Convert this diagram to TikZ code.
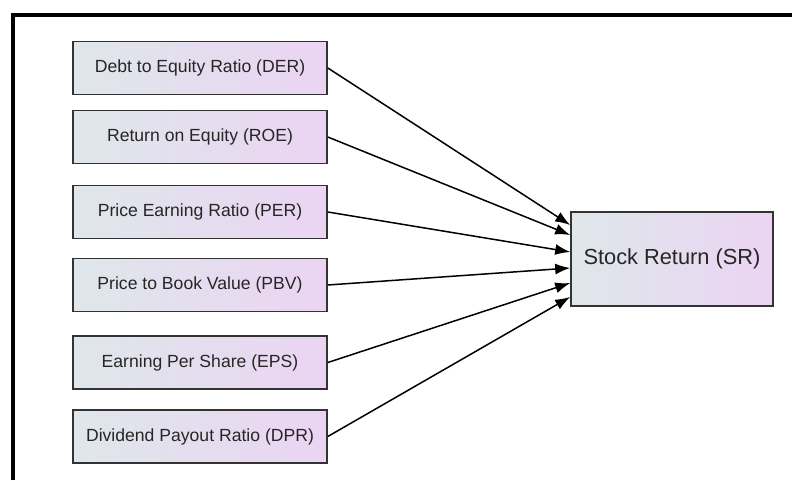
\documentclass[tikz,border=0pt]{standalone}
\usepackage{fontspec}
\setmainfont{Liberation Sans}
\usetikzlibrary{arrows.meta}
\definecolor{boxleft}{HTML}{DFE7EA}
\definecolor{boxright}{HTML}{EBD4F3}
\definecolor{boxline}{HTML}{333333}
\begin{document}
\begin{tikzpicture}[x=1pt,y=1pt,
    factor/.style={draw=boxline, line width=1.6pt, left color=boxleft, right color=boxright,
        minimum width=254pt, minimum height=53pt, inner sep=0pt,
        text=black!85, font=\fontsize{17.6}{20}\selectfont},
    target/.style={factor, minimum width=202pt, minimum height=94pt,
        font=\fontsize{21.8}{24}\selectfont},
    link/.style={-{Latex[length=15pt,width=11pt]}, line width=1.5pt}]
            \useasboundingbox (0,0) rectangle (792,480);
            \draw[line width=4pt] (13,0) -- (13,464.5) -- (792,464.5) ;
            \node[factor] (der) at (200,412) {Debt to Equity Ratio (DER)};
            \node[factor] (roe) at (200,343) {Return on Equity (ROE)};
            \node[factor] (per) at (200,268) {Price Earning Ratio (PER)};
            \node[factor] (pbv) at (200,195) {Price to Book Value (PBV)};
            \node[factor] (eps) at (200,117.5) {Earning Per Share (EPS)};
            \node[factor] (dpr) at (200,43.5) {Dividend Payout Ratio (DPR)};
            \node[target] (sr) at (672,221) {Stock Return (SR)};
            \draw[link] (der.east) -- ([yshift=34pt]sr.west) ;
            \draw[link] (roe.east) -- ([yshift=24pt]sr.west) ;
            \draw[link] (per.east) -- ([yshift=7pt]sr.west) ;
            \draw[link] (pbv.east) -- ([yshift=-9pt]sr.west) ;
            \draw[link] (eps.east) -- ([yshift=-24pt]sr.west) ;
            \draw[link] (dpr.east) -- ([yshift=-38pt]sr.west) ;
        \end{tikzpicture}
\end{document}
